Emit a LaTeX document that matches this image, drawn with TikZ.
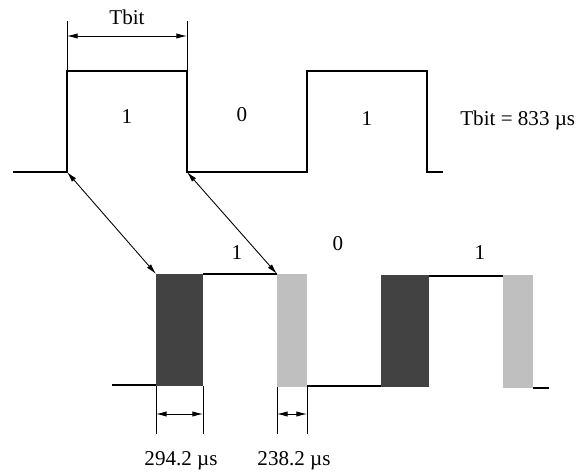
\documentclass[tikz,border=0pt]{standalone}
\usepackage{fontspec}
\setmainfont{Liberation Serif}
\usetikzlibrary{arrows.meta}
\definecolor{darkbar}{gray}{0.26}
\definecolor{lightbar}{gray}{0.75}
\tikzset{
  signal/.style={line width=1.5pt},
  extline/.style={line width=0.5pt},
  dimarrow/.style={line width=0.5pt,{Latex[length=6pt,width=3pt]}-{Latex[length=6pt,width=3pt]}},
  bitlabel/.style={font=\fontsize{12}{14}\selectfont, inner sep=0pt},
}
\begin{document}
\begin{tikzpicture}[x=0.02cm,y=-0.02cm]
\useasboundingbox (0,0) rectangle (585,476);
% upper signal (1 0 1)
\coordinate (u1) at (67,172);
\coordinate (u2) at (187,172);
\draw[signal] (13,172) -- (u1) -- (67,71) -- (187,71) -- (u2) -- (307,172)
  -- (307,71) -- (427,71) -- (427,172) -- (443,172);
\node[bitlabel] (ub1) at (127,117) {1};
\node[bitlabel] (ub0) at (242,115) {0};
\node[bitlabel] (ub2) at (367,119) {1};
\node[bitlabel,anchor=west] (tval) at (460,120) {Tbit = 833 µs};
% Tbit dimension
\draw[extline] (67,21) -- (67,71) (187,21) -- (187,71);
\coordinate (ta) at (67,36);
\coordinate (tb) at (187,36);
\draw[dimarrow] (ta) -- (tb);
\node[bitlabel] (tbit) at (127,17) {Tbit};
% lower signal with pulses
\fill[darkbar] (156,274) rectangle (203,386);
\fill[lightbar] (277,274) rectangle (307,387);
\fill[darkbar] (381,275) rectangle (429,387);
\fill[lightbar] (503,275) rectangle (533,388);
\coordinate (l1) at (156,274);
\coordinate (l2) at (277,274);
\draw[signal] (112,385) -- (156,385);
\draw[signal] (203,274) -- (l2);
\draw[signal] (307,386) -- (381,386);
\draw[signal] (429,276) -- (503,276);
\draw[signal] (533,388) -- (549,388);
\node[bitlabel] (lb1) at (237,253) {1};
\node[bitlabel] (lb0) at (338,244) {0};
\node[bitlabel] (lb2) at (480,253) {1};
% edge correspondence
\draw[dimarrow] (u1) -- (l1);
\draw[dimarrow] (u2) -- (l2);
% pulse widths
\draw[extline] (156,386) -- (156,434) (203,386) -- (203,434);
\draw[extline] (277,387) -- (277,434) (307,387) -- (307,434);
\coordinate (da) at (156,414);
\coordinate (db) at (203,414);
\coordinate (dc) at (277,414);
\coordinate (dd) at (307,414);
\draw[dimarrow] (da) -- (db);
\draw[dimarrow] (dc) -- (dd);
\node[bitlabel] (w1) at (181,461) {294.2 µs};
\node[bitlabel] (w2) at (294,461) {238.2 µs};
\end{tikzpicture}
\end{document}
